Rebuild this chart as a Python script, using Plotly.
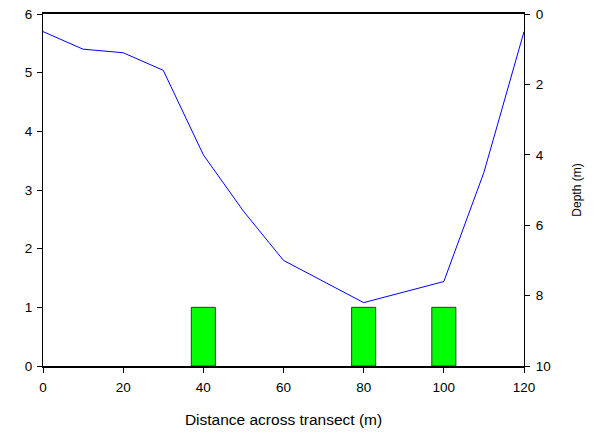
import plotly.graph_objects as go

# Data
bar_x = [40, 80, 100]
bar_y = [1, 1, 1]
depth_x = [0, 10, 20, 30, 40, 50, 60, 80, 100, 110, 120]
depth_y = [0.5, 1.0, 1.1, 1.6, 4.0, 5.6, 7.0, 8.2, 7.6, 4.5, 0.5]
x_ticks = [0, 20, 40, 60, 80, 100, 120]
y_ticks = [0, 1, 2, 3, 4, 5, 6]
y2_ticks = [0, 2, 4, 6, 8, 10]

font = dict(family="Liberation Sans, Arial, sans-serif", size=13.5, color="black")

fig = go.Figure()
fig.add_trace(go.Bar(x=bar_x, y=bar_y, width=6, marker=dict(color="#00ff00", line=dict(color="#333333", width=1)),
                     xaxis="x", yaxis="y", showlegend=False))
fig.add_trace(go.Scatter(x=depth_x, y=depth_y, mode="lines", line=dict(color="#0000ff", width=1),
                         xaxis="x", yaxis="y2", showlegend=False))

fig.update_layout(
    width=597, height=434,
    margin=dict(l=43, r=73, t=14, b=68),
    paper_bgcolor="white", plot_bgcolor="white",
    font=font,
    xaxis=dict(range=[0, 120], tickvals=x_ticks, ticks="outside", ticklen=5, tickwidth=1, tickcolor="black",
               showline=True, linecolor="black", linewidth=1.5, mirror=True, showgrid=False, zeroline=False,
               automargin=False, ticklabelstandoff=3,
               title=dict(text="Distance across transect (m)", font=dict(size=15.5), standoff=20)),
    yaxis=dict(range=[0, 6], tickvals=y_ticks, ticks="outside", ticklen=5, tickwidth=1, tickcolor="black",
               showline=True, linecolor="black", linewidth=1, showgrid=False, zeroline=False, automargin=False,
               ticklabelstandoff=2),
    yaxis2=dict(range=[10, 0], tickvals=y2_ticks, overlaying="y", side="right", ticks="outside", ticklen=5,
                tickwidth=1, tickcolor="black", showline=True, linecolor="black", linewidth=1, showgrid=False,
                zeroline=False, automargin=False, ticklabelstandoff=3,
                title=dict(text="Depth (m)", font=dict(size=12), standoff=22)),
)

fig.write_html("out.html")
